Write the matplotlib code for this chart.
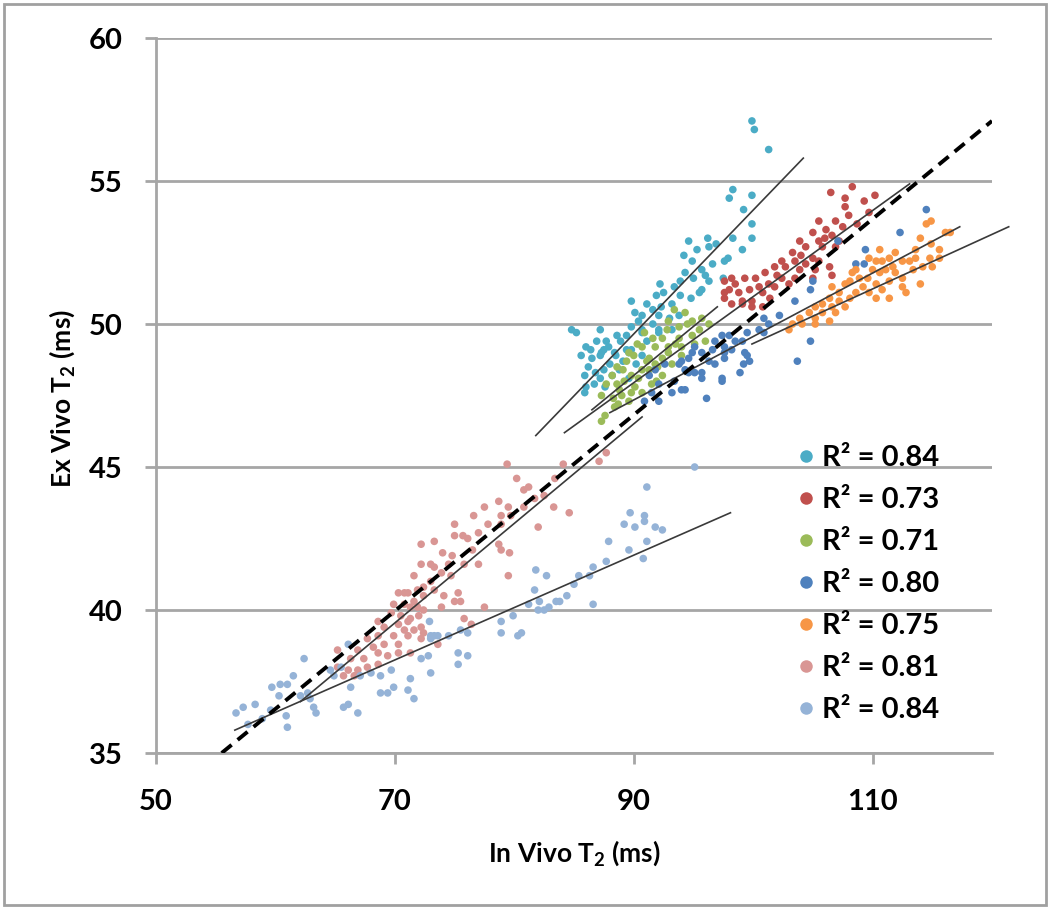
import matplotlib
matplotlib.use("Agg")
import matplotlib.pyplot as plt
from matplotlib.lines import Line2D
from matplotlib.patches import Rectangle

plt.rcParams['font.family'] = ['Lato', 'DejaVu Sans']
plt.rcParams['font.weight'] = 'bold'
plt.rcParams['mathtext.fontset'] = 'custom'
plt.rcParams['mathtext.rm'] = 'Lato:bold'
plt.rcParams['mathtext.it'] = 'Lato:bold'
plt.rcParams['mathtext.bf'] = 'Lato:bold'
plt.rcParams['mathtext.default'] = 'rm'

# ---- data (in vivo T2, ex vivo T2) ----
cyan_pts = [
    (99.9, 57.1), (100.1, 56.8), (101.3, 56.1),
    (98.3, 54.7), (98.0, 54.4), (99.9, 54.5), (99.2, 54.0), (99.9, 53.5),
    (96.2, 53.0), (96.9, 52.8), (96.3, 52.7), (98.3, 53.0), (99.1, 52.6), (97.9, 52.3), (97.6, 52.2), (99.9, 53.0),
    (94.2, 52.4), (94.9, 52.2), (95.7, 51.9), (96.0, 51.7), (96.6, 52.1), (97.5, 51.6), (94.3, 51.8), (95.0, 51.6),
    (93.9, 51.5), (95.7, 51.2), (96.3, 51.5), (92.2, 51.4), (93.4, 51.3), (92.5, 51.1), (93.9, 51.0), (94.8, 50.9),
    (95.5, 51.1), (92.3, 50.6), (93.2, 50.7), (91.1, 50.7), (89.8, 50.8), (90.1, 50.4), (90.7, 50.3), (92.1, 50.3),
    (93.0, 50.2), (93.8, 50.3), (91.6, 50.0), (89.8, 49.9), (90.7, 49.8), (92.1, 49.8), (89.4, 49.6), (90.7, 49.7),
    (92.1, 49.7), (93.2, 49.8), (87.2, 49.8), (86.9, 49.4), (87.7, 49.4), (85.2, 49.7), (84.8, 49.8), (86.4, 49.1),
    (87.5, 49.1), (88.9, 49.4), (89.8, 49.1), (91.1, 49.4), (85.6, 48.9), (86.0, 49.2), (87.2, 48.9), (86.2, 48.5),
    (87.5, 48.4), (85.9, 48.2), (87.2, 48.1), (86.0, 47.8), (86.7, 47.9), (85.9, 47.6), (88.0, 48.6), (89.4, 49.1),
    (89.1, 48.7), (88.8, 48.4), (88.2, 48.2), (87.6, 47.8), (89.6, 48.1), (90.2, 48.6), (90.7, 48.9), (87.3, 49.0),
    (88.4, 49.0), (87.9, 49.2), (89.6, 49.0), (86.5, 48.8), (88.6, 49.6), (90.4, 50.1), (91.6, 50.5),
    (86.8, 48.3), (88.5, 48.9), (91.9, 51.0), (94.6, 52.9), (95.3, 52.6),
]
red_pts = [
    (106.5, 54.6), (108.3, 54.8), (107.7, 54.4), (110.2, 54.5), (109.3, 54.3), (107.7, 54.1), (109.7, 53.9),
    (105.5, 53.6), (106.9, 53.6), (107.5, 53.4), (106.1, 53.3), (108.7, 53.5), (105.0, 53.2), (106.6, 53.1),
    (107.2, 52.9), (105.5, 52.9), (103.9, 52.9), (104.4, 52.7), (105.8, 52.7), (106.9, 52.7), (103.3, 52.5),
    (105.0, 52.3), (102.4, 52.2), (103.5, 52.2), (104.4, 52.1), (105.5, 52.2), (106.4, 52.0), (102.7, 52.0),
    (101.8, 52.0), (103.9, 51.9), (105.2, 51.9), (101.0, 51.8), (102.4, 51.6), (103.5, 51.6), (105.0, 51.6),
    (106.6, 51.7), (100.2, 51.6), (99.3, 51.6), (98.2, 51.6), (101.3, 51.4), (100.5, 51.3), (101.8, 51.3),
    (103.0, 51.4), (99.7, 51.2), (100.8, 51.1), (98.8, 51.1), (98.0, 51.2), (99.9, 50.8), (99.1, 50.7),
    (101.4, 50.9), (100.8, 50.6), (99.9, 50.6), (97.6, 50.9), (98.5, 51.4), (97.6, 51.1), (99.1, 50.8),
    (98.2, 50.7), (97.6, 51.5), (104.0, 52.4), (106.0, 53.0), (108.0, 53.8), (102.0, 51.7),
]
green_pts = [
    (87.3, 46.6), (87.6, 46.8), (88.4, 47.1), (88.7, 47.2), (88.3, 47.4), (88.8, 47.7), (89.6, 47.3), (89.8, 47.6),
    (90.1, 47.8), (88.6, 47.9), (89.2, 48.0), (90.4, 48.1), (91.3, 48.4), (91.8, 48.6), (92.4, 48.8), (92.9, 49.0),
    (91.5, 47.9), (90.7, 47.6), (93.4, 50.5), (94.3, 50.4), (92.9, 50.1), (94.9, 50.1), (95.7, 50.2), (96.3, 50.0),
    (93.8, 49.9), (95.5, 49.8), (90.9, 49.7), (92.4, 49.5), (93.8, 49.5), (90.7, 49.2), (91.8, 49.2), (92.9, 49.2),
    (94.0, 49.2), (95.1, 49.3), (96.0, 49.4), (89.6, 49.0), (91.3, 48.8), (89.4, 48.7), (90.7, 48.4), (91.9, 48.0),
    (88.2, 48.2), (89.0, 47.5), (92.4, 48.2), (93.2, 48.6), (94.0, 48.9), (94.9, 49.6), (91.1, 48.7), (90.3, 49.3),
    (88.6, 48.5), (89.8, 48.2), (87.3, 47.5), (87.7, 47.9), (92.8, 49.8), (94.5, 50.0),
    (90.0, 48.9), (91.6, 49.5), (93.5, 49.3), (92.0, 48.5), (89.1, 48.4),
]
blue_pts = [
    (114.5, 54.0), (112.3, 53.2), (109.4, 52.6), (108.6, 52.1), (109.3, 52.1), (107.1, 52.9), (105.0, 51.5),
    (104.8, 51.2), (103.5, 50.8), (102.2, 50.3), (100.9, 50.2), (101.3, 50.0), (100.5, 49.8), (100.9, 49.7),
    (99.5, 49.7), (99.1, 49.4), (98.5, 49.4), (98.0, 49.6), (97.4, 49.6), (97.6, 49.2), (98.2, 49.1), (99.3, 49.0),
    (99.7, 48.7), (99.2, 48.6), (97.6, 48.8), (97.4, 48.1), (98.9, 48.3), (104.8, 49.4), (103.7, 48.7), (96.1, 47.4),
    (94.3, 47.7), (94.6, 48.3), (95.7, 48.3), (96.3, 48.7), (95.7, 49.0), (94.9, 49.0), (94.0, 48.7), (95.1, 49.2),
    (96.6, 49.1), (96.8, 49.4), (91.3, 48.2), (92.1, 47.9), (91.5, 47.6), (92.1, 47.3), (90.9, 47.3), (93.4, 48.0),
    (93.2, 47.6), (94.0, 47.7), (95.1, 48.3), (95.7, 48.1), (97.4, 48.0), (99.5, 48.9), (97.6, 49.0), (94.6, 48.8),
    (96.8, 48.6), (94.3, 48.4), (91.8, 48.4), (92.6, 48.6), (93.8, 48.6),
]
orange_pts = [
    (114.9, 53.6), (114.5, 53.5), (114.0, 53.0), (114.9, 52.8), (116.1, 53.2), (115.6, 52.3), (114.8, 52.3),
    (113.6, 52.6), (113.6, 52.3), (113.1, 52.2), (114.2, 52.0), (115.0, 52.0), (113.4, 51.9), (112.5, 52.2),
    (111.9, 52.5), (111.7, 52.0), (110.8, 52.2), (110.3, 52.2), (112.5, 51.6), (111.9, 51.8), (111.1, 51.9),
    (110.6, 51.8), (110.0, 51.9), (109.6, 51.6), (111.4, 51.5), (112.5, 51.3), (114.0, 51.4), (112.8, 51.1),
    (111.4, 50.9), (110.8, 51.2), (110.3, 51.4), (108.9, 51.6), (108.3, 51.8), (107.7, 51.4), (109.2, 51.3),
    (108.6, 51.1), (109.7, 51.1), (110.3, 50.9), (108.1, 50.9), (107.2, 51.1), (106.6, 51.3), (106.4, 50.9),
    (107.2, 50.8), (105.8, 50.7), (106.6, 50.6), (105.2, 50.6), (107.7, 50.6), (104.7, 50.4), (105.8, 50.4),
    (106.9, 50.4), (106.4, 50.1), (105.2, 50.2), (103.9, 50.2), (103.3, 50.0), (103.0, 49.8), (104.1, 50.0),
    (105.2, 50.0), (111.4, 52.3), (110.6, 52.6), (109.7, 52.3), (108.6, 51.9), (108.1, 51.5), (115.6, 52.6),
    (116.5, 53.2),
]
pink_pts = [
    (79.4, 45.1), (84.1, 45.1), (87.1, 45.2), (87.7, 45.5), (83.4, 44.6), (81.2, 44.3), (80.8, 44.2), (78.7, 43.8),
    (77.5, 43.6), (82.5, 44.0), (81.7, 43.9), (80.8, 43.6), (79.5, 43.6), (79.7, 43.3), (78.9, 43.3), (83.3, 43.6),
    (84.6, 43.4), (82.0, 42.9), (76.6, 43.3), (75.0, 43.0), (77.0, 42.7), (78.9, 43.0), (75.0, 42.6), (76.1, 42.5),
    (75.7, 42.6), (73.3, 42.4), (72.2, 42.3), (78.7, 42.3), (78.9, 42.1), (79.6, 42.0), (77.0, 41.6), (75.8, 41.6),
    (72.2, 41.6), (73.0, 41.6), (73.3, 41.5), (74.5, 41.6), (73.9, 41.3), (74.7, 41.2), (79.5, 41.2), (71.6, 41.2),
    (73.0, 41.0), (72.4, 40.8), (73.3, 40.7), (74.1, 40.5), (75.3, 40.6), (75.5, 40.3), (75.0, 40.3), (70.8, 40.6),
    (71.6, 40.3), (71.3, 40.1), (77.5, 40.1), (75.8, 39.7), (72.0, 39.8), (71.1, 39.6), (70.8, 39.3), (72.2, 39.4),
    (76.4, 39.5), (70.3, 40.6), (71.1, 40.6), (71.9, 40.7), (72.4, 40.5), (69.9, 40.2), (70.8, 40.2), (71.9, 40.1),
    (72.4, 40.0), (73.9, 40.1), (69.7, 39.9), (70.5, 39.8), (71.3, 39.7), (68.6, 39.6), (70.3, 39.5), (69.1, 39.4),
    (71.6, 39.3), (72.4, 39.2), (67.7, 39.0), (68.6, 39.1), (69.9, 39.1), (71.1, 39.1), (72.2, 39.0), (68.2, 38.7),
    (69.1, 38.8), (70.3, 38.8), (73.6, 38.8), (65.2, 38.6), (66.9, 38.6), (68.6, 38.5), (69.4, 38.4), (70.3, 38.5),
    (71.3, 38.5), (66.3, 38.3), (67.4, 38.3), (68.6, 38.1), (65.2, 38.0), (66.1, 37.9), (66.9, 37.9), (67.7, 38.0),
    (65.7, 37.7), (66.6, 37.7), (74.0, 42.0), (76.5, 42.1), (77.8, 43.0), (80.2, 44.6), (74.8, 41.9),
]
lightblue_pts = [
    (59.7, 37.3), (60.4, 37.4), (61.0, 37.4), (61.5, 37.7), (62.4, 38.3), (60.3, 37.0), (62.1, 37.0), (62.9, 36.9),
    (63.2, 36.6), (63.4, 36.4), (62.7, 37.1), (64.6, 37.9), (65.5, 38.0), (66.1, 38.8), (64.9, 37.7), (66.1, 36.7),
    (65.7, 36.6), (66.3, 37.3), (66.9, 36.4), (67.1, 37.7), (68.0, 37.8), (68.8, 37.7), (69.7, 37.9), (68.8, 37.1),
    (69.4, 37.1), (69.9, 37.3), (71.1, 37.2), (71.3, 37.6), (71.6, 36.9), (72.2, 38.3), (72.8, 38.4), (73.0, 39.0),
    (73.3, 39.1), (72.9, 39.6), (73.0, 37.8), (75.3, 38.5), (75.3, 38.1), (76.1, 38.4),
    (95.1, 45.0), (91.1, 44.3), (89.7, 43.4), (90.9, 43.3), (90.9, 43.1), (89.2, 43.0), (90.1, 42.9), (91.8, 42.9),
    (92.4, 42.8), (91.1, 42.4), (87.9, 42.4), (89.6, 42.1), (90.8, 41.8), (87.7, 41.7), (86.6, 41.5), (86.3, 41.2),
    (85.4, 41.2), (85.0, 40.9), (86.6, 40.2), (84.4, 40.5), (83.8, 40.3), (83.5, 40.3), (82.9, 40.1), (82.5, 40.0),
    (82.0, 40.0), (81.8, 41.4), (82.7, 41.2), (81.7, 40.7), (82.1, 40.3), (81.2, 40.2), (79.9, 39.8), (78.9, 39.6),
    (78.9, 39.2), (80.6, 39.2), (80.3, 39.1), (76.1, 39.2), (75.5, 39.3), (74.5, 39.1), (73.6, 39.1), (73.0, 39.1),
    (56.7, 36.4), (57.3, 36.6), (58.3, 36.7), (58.9, 36.2), (57.7, 36.0), (59.6, 36.5), (60.9, 36.3), (61.0, 35.9),
]

series_pts = [cyan_pts, red_pts, green_pts, blue_pts, orange_pts, pink_pts, lightblue_pts]
series_colors = ['#4BACC6', '#C0504D', '#9BBB59', '#4F81BD', '#F79646', '#D99694', '#95B3D7']
r2_labels = ['0.84', '0.73', '0.71', '0.80', '0.75', '0.81', '0.84']

# trendline end points: (x0, y0, x1, y1)
fit_lines = [
    (81.8, 46.1, 104.2, 55.8),   # cyan
    (84.2, 46.2, 113.1, 54.9),   # red
    (86.5, 47.0, 97.0, 50.6),    # green
    (88.0, 46.9, 117.3, 53.4),   # blue
    (99.9, 49.3, 121.4, 53.4),   # orange
    (62.1, 36.8, 90.7, 46.75),   # pink
    (56.6, 35.8, 98.1, 43.4),    # light blue
]
overall_line = (55.5, 35.0, 120.0, 57.1)

fig = plt.figure(figsize=(10.5, 9.09), dpi=100)
ax = fig.add_axes([156 / 1050, 1 - 753 / 909, (992 - 156) / 1050, (753 - 38) / 909])

for pts, col in zip(series_pts, series_colors):
    xs = [p[0] for p in pts]
    ys = [p[1] for p in pts]
    ax.scatter(xs, ys, s=30, color=col, edgecolors='none', zorder=3)

for x0, y0, x1, y1 in fit_lines:
    ax.plot([x0, x1], [y0, y1], color='#3a3a3a', lw=1.2, zorder=4, clip_on=False)

ax.plot([overall_line[0], overall_line[2]], [overall_line[1], overall_line[3]],
        color='black', lw=2.8, ls=(0, (3.3, 2.0)), zorder=5)

ax.set_xlim(50, 120)
ax.set_ylim(35, 60)
ax.set_xticks([50, 70, 90, 110])
ax.set_yticks([35, 40, 45, 50, 55, 60])
ax.yaxis.grid(True, color='#a6a6a6', lw=2)
ax.set_axisbelow(True)
for side in ['top', 'right']:
    ax.spines[side].set_visible(False)
for side in ['left', 'bottom']:
    ax.spines[side].set_color('#a6a6a6')
    ax.spines[side].set_linewidth(2)
ax.tick_params(axis='both', direction='out', length=8, width=2, color='#a6a6a6',
               labelsize=21)
ax.tick_params(axis='y', pad=16)
ax.tick_params(axis='x', pad=18)

# axis titles placed in figure coordinates
fig.text(574 / 1050, 1 - 853 / 909, 'In Vivo T$_2$ (ms)', fontsize=19, fontweight='bold',
         ha='center', va='center')
fig.text(62 / 1050, 1 - 398 / 909, 'Ex Vivo T$_2$ (ms)', fontsize=19, fontweight='bold',
         ha='center', va='center', rotation=90)

handles = [Line2D([], [], ls='none', marker='o', markersize=9, color=c, markeredgewidth=0)
           for c in series_colors]
labels = ['R\u00b2 = ' + r for r in r2_labels]
ax.legend(handles, labels, loc='upper left', bbox_to_anchor=(0.7465, 0.447), frameon=False,
          prop={'size': 21, 'weight': 'bold'}, handletextpad=0.05, labelspacing=0.55,
          handlelength=1.0, borderaxespad=0)

fig.patches.append(Rectangle((4 / 1050, 4 / 909), 1042 / 1050, 901 / 909, transform=fig.transFigure,
                             fill=False, edgecolor='#a0a0a0', lw=2))

fig.savefig('out.png', dpi=100)
